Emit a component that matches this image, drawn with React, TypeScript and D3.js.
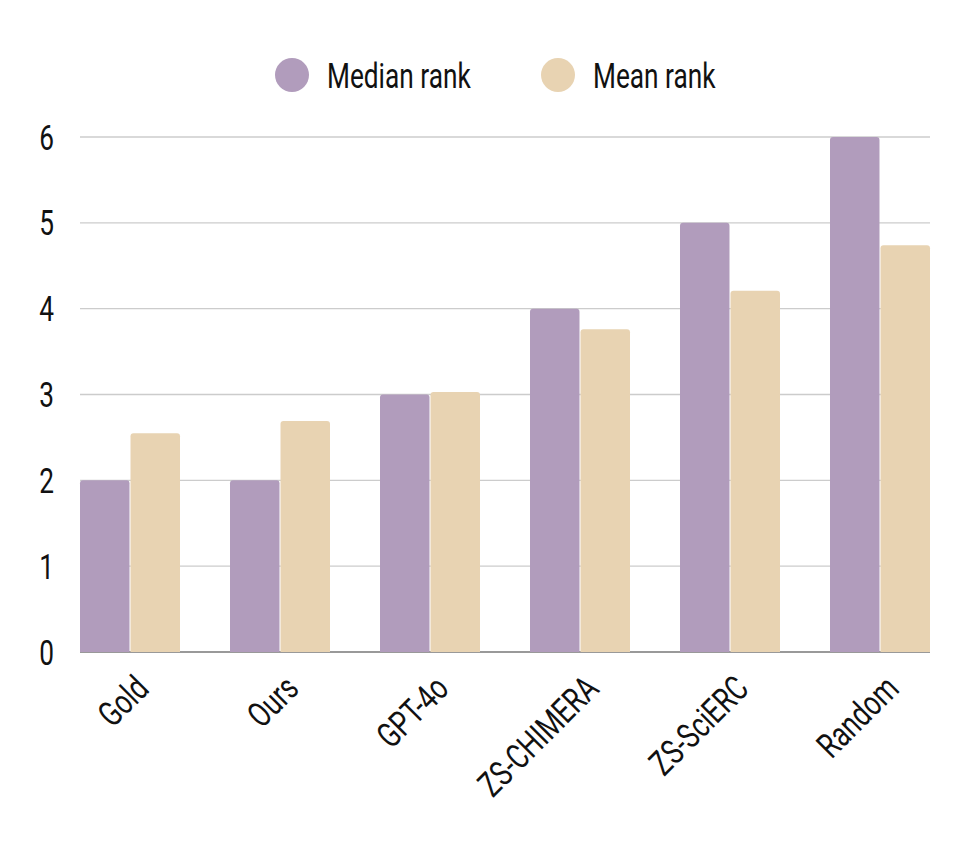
import React, { useEffect } from "react";
import * as d3 from "d3";

const categories = ["Gold", "Ours", "GPT-4o", "ZS-CHIMERA", "ZS-SciERC", "Random"];
const medianRank = [2, 2, 3, 4, 5, 6];
const meanRank = [2.55, 2.69, 3.03, 3.76, 4.21, 4.74];
const seriesNames = ["Median rank", "Mean rank"];
const seriesColors = ["#b19cbc", "#e8d3b2"];
const yTicks = [0, 1, 2, 3, 4, 5, 6];

const W = 972;
const H = 850;
const M = { left: 80, right: 42, top: 137, bottom: 198 };
const FONT = "Roboto, 'DejaVu Sans Condensed', sans-serif";
const SX = 0.75;

function topRoundedRect(x: number, y: number, w: number, h: number, r: number) {
  const rr = Math.min(r, h, w / 2);
  return `M${x},${y + h}V${y + rr}Q${x},${y} ${x + rr},${y}H${x + w - rr}Q${x + w},${y} ${x + w},${y + rr}V${y + h}Z`;
}

export default function App() {
  useEffect(() => {
    document.body.style.margin = "0";
  }, []);

  const x0 = d3
    .scaleBand<string>()
    .domain(categories)
    .range([M.left, W - M.right])
    .paddingInner(1 / 3)
    .paddingOuter(0);
  const x1 = d3.scaleBand<number>().domain([0, 1]).range([0, x0.bandwidth()]).paddingInner(0.02);
  const y = d3.scaleLinear().domain([0, 6]).range([H - M.bottom, M.top]);

  const series = [medianRank, meanRank];

  return (
    <svg width={W} height={H} style={{ display: "block", background: "#fff" }} fontFamily={FONT}>
      {/* gridlines */}
      {yTicks.map((t) => (
        <line
          key={"g" + t}
          x1={M.left}
          x2={W - M.right}
          y1={y(t)}
          y2={y(t)}
          stroke={t === 0 ? "#777" : "#cccccc"}
          strokeWidth={1.4}
        />
      ))}
      {/* y tick labels */}
      {yTicks.map((t) => (
        <text
          key={"t" + t}
          transform={`translate(54,${y(t)}) scale(${SX},1)`}
          dy="0.36em"
          textAnchor="end"
          fontSize={35}
          fill="#111"
        >
          {t}
        </text>
      ))}
      {/* bars */}
      {categories.map((c, i) => (
        <g key={c} transform={`translate(${x0(c)},0)`}>
          {series.map((s, k) => (
            <path
              key={k}
              d={topRoundedRect(x1(k)!, y(s[i]), x1.bandwidth(), y(0) - y(s[i]), 3)}
              fill={seriesColors[k]}
            />
          ))}
        </g>
      ))}
      {/* x labels */}
      {categories.map((c) => {
        const cx = x0(c)! + x0.bandwidth() / 2 + 12;
        const cy = y(0) + 30;
        return (
          <text
            key={"x" + c}
            transform={`translate(${cx},${cy}) rotate(-45) scale(${SX},1)`}
            textAnchor="end"
            dy="0.35em"
            fontSize={35}
            fill="#111"
          >
            {c}
          </text>
        );
      })}
      {/* legend */}
      {seriesNames.map((n, k) => {
        const lx = [292, 558][k];
        return (
          <g key={n}>
            <circle cx={lx} cy={75} r={17} fill={seriesColors[k]} />
            <text
              transform={`translate(${lx + 35},75) scale(${SX},1)`}
              dy="0.36em"
              fontSize={35}
              fill="#111"
            >
              {n}
            </text>
          </g>
        );
      })}
    </svg>
  );
}
